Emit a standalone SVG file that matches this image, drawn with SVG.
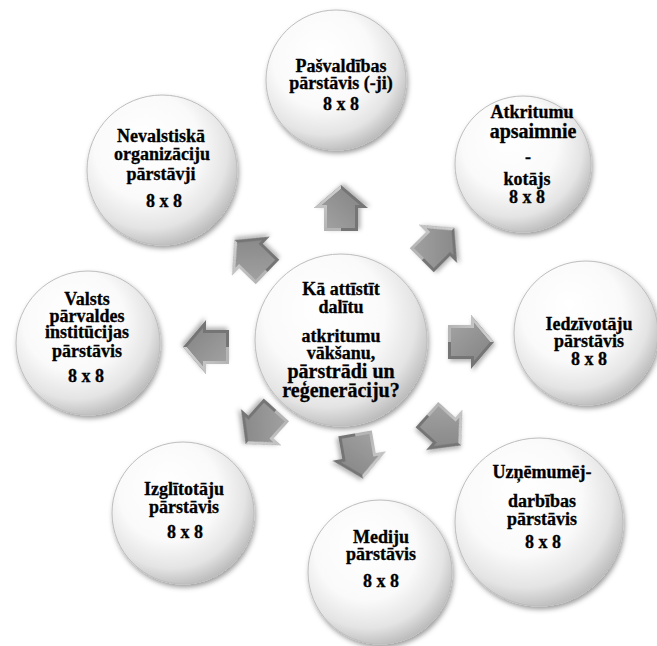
<svg xmlns="http://www.w3.org/2000/svg" xmlns:xlink="http://www.w3.org/1999/xlink" width="657" height="646" viewBox="0 0 657 646">
  <defs>
    <radialGradient id="ball" cx="0.42" cy="0.38" r="0.64" fx="0.38" fy="0.3">
      <stop offset="0" stop-color="#ffffff"/>
      <stop offset="0.55" stop-color="#fafafa"/>
      <stop offset="0.82" stop-color="#e4e4e4"/>
      <stop offset="1" stop-color="#bcbcbc"/>
    </radialGradient>
    <linearGradient id="faceGrad" x1="0" y1="0" x2="1" y2="1">
      <stop offset="0" stop-color="#a2a2a2"/>
      <stop offset="0.5" stop-color="#939393"/>
      <stop offset="1" stop-color="#848484"/>
    </linearGradient>
    <linearGradient id="hiGrad" x1="0" y1="0" x2="1" y2="0">
      <stop offset="0" stop-color="#b4b4b4"/>
      <stop offset="1" stop-color="#cfcfcf"/>
    </linearGradient>
    <filter id="ballShadow" x="-20%" y="-20%" width="140%" height="145%">
      <feDropShadow dx="1.5" dy="3" stdDeviation="2.5" flood-color="#000" flood-opacity="0.38"/>
    </filter>
    <filter id="arrowShadow" x="-30%" y="-30%" width="160%" height="160%">
      <feDropShadow dx="1.5" dy="2.5" stdDeviation="2" flood-color="#000" flood-opacity="0.3"/>
    </filter>
    <!-- bevelled block arrow pointing right, centred on the origin -->
    <g id="arrow">
      <polygon fill="#747474" points="-23,-17 0,-17 0,-27 23,0 0,27 0,17 -23,17"/>
      <polygon fill="url(#hiGrad)" points="-23,-17 0,-17 0,-27 23,0 19.1,0 3,-18.9 3,-14 -20,-14 -20,0 -23,0"/>
      <polygon fill="url(#faceGrad)" points="-20,-14 3,-14 3,-18.9 19.1,0 3,18.9 3,14 -20,14"/>
    </g>
    <style>
      .ball { fill: url(#ball); stroke: #bdbdbd; stroke-width: 1; filter: url(#ballShadow); }
      .lbl { font-family: "Liberation Serif", "Times New Roman", serif; font-weight: bold; font-size: 18px; fill: #000; stroke: #000; stroke-width: 0.3; text-anchor: middle; }
      .big { font-size: 20px; }
      .arr { filter: url(#arrowShadow); }
    </style>
  </defs>

  <rect width="657" height="646" fill="#ffffff"/>

  <!-- connectors: block arrows radiating from the centre -->
  <g id="connectors">
    <use class="arr" href="#arrow" xlink:href="#arrow" transform="translate(341,208) rotate(-90)"/>
    <use class="arr" href="#arrow" xlink:href="#arrow" transform="translate(438,244) rotate(-45)"/>
    <use class="arr" href="#arrow" xlink:href="#arrow" transform="translate(471,342)"/>
    <use class="arr" href="#arrow" xlink:href="#arrow" transform="translate(444,430) rotate(42)"/>
    <use class="arr" href="#arrow" xlink:href="#arrow" transform="translate(359,456) rotate(80)"/>
    <use class="arr" href="#arrow" xlink:href="#arrow" transform="translate(261,427) rotate(132)"/>
    <use class="arr" href="#arrow" xlink:href="#arrow" transform="translate(206,347) rotate(180)"/>
    <use class="arr" href="#arrow" xlink:href="#arrow" transform="translate(251,256) rotate(-136)"/>
  </g>

  <g id="center">
    <circle class="ball" cx="341" cy="340" r="86"/>
    <text class="lbl" x="341" y="295">Kā attīstīt</text>
    <text class="lbl" x="341" y="313">dalītu</text>
    <text class="lbl" x="341" y="342">atkritumu</text>
    <text class="lbl" x="341" y="359">vākšanu,</text>
    <text class="lbl big" x="341" y="378">pārstrādi un</text>
    <text class="lbl big" x="341" y="397">reģenerāciju?</text>
  </g>

  <g id="pasvaldiba">
    <circle class="ball" cx="336" cy="80" r="70"/>
    <text class="lbl" x="341" y="72">Pašvaldības</text>
    <text class="lbl" x="341" y="89">pārstāvis (-ji)</text>
    <text class="lbl" x="341" y="110">8 x 8</text>
  </g>

  <g id="atkritumu">
    <circle class="ball" cx="523" cy="164" r="68"/>
    <text class="lbl" x="532" y="118">Atkritumu</text>
    <text class="lbl big" x="533" y="138">apsaimnie</text>
    <text class="lbl" x="528" y="163">-</text>
    <text class="lbl" x="527" y="185">kotājs</text>
    <text class="lbl" x="527" y="203">8 x 8</text>
  </g>

  <g id="iedzivotaji">
    <circle class="ball" cx="586" cy="333" r="72"/>
    <text class="lbl" x="589" y="330">Iedzīvotāju</text>
    <text class="lbl" x="589" y="347">pārstāvis</text>
    <text class="lbl" x="589" y="365">8 x 8</text>
  </g>

  <g id="uznemeji">
    <circle class="ball" cx="539" cy="522" r="84"/>
    <text class="lbl" x="542" y="478">Uzņēmumēj-</text>
    <text class="lbl" x="542" y="507">darbības</text>
    <text class="lbl" x="542" y="525">pārstāvis</text>
    <text class="lbl" x="543" y="548">8 x 8</text>
  </g>

  <g id="mediji">
    <circle class="ball" cx="380" cy="572" r="72"/>
    <text class="lbl" x="381" y="543">Mediju</text>
    <text class="lbl" x="381" y="560">pārstāvis</text>
    <text class="lbl" x="381" y="587">8 x 8</text>
  </g>

  <g id="izglitotaji">
    <circle class="ball" cx="183" cy="513" r="71"/>
    <text class="lbl" x="184" y="495">Izglītotāju</text>
    <text class="lbl" x="184" y="513">pārstāvis</text>
    <text class="lbl" x="185" y="538">8 x 8</text>
  </g>

  <g id="valsts">
    <circle class="ball" cx="88" cy="343" r="72"/>
    <text class="lbl" x="87" y="305">Valsts</text>
    <text class="lbl" x="87" y="322">pārvaldes</text>
    <text class="lbl" x="87" y="338">institūcijas</text>
    <text class="lbl" x="87" y="357">pārstāvis</text>
    <text class="lbl" x="86" y="382">8 x 8</text>
  </g>

  <g id="nevalstiskas">
    <circle class="ball" cx="162" cy="170" r="75"/>
    <text class="lbl" x="161" y="142">Nevalstiskā</text>
    <text class="lbl" x="162" y="160">organizāciju</text>
    <text class="lbl" x="161" y="180">pārstāvji</text>
    <text class="lbl" x="164" y="207">8 x 8</text>
  </g>
</svg>
